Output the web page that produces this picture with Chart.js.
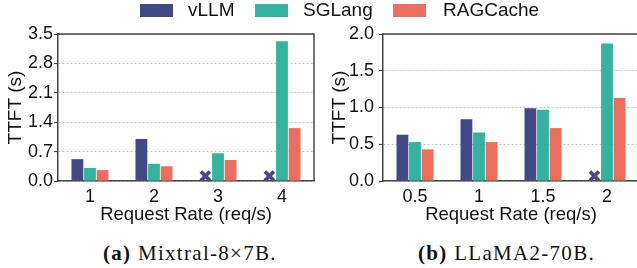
<!DOCTYPE html>
<html>
<head>
<meta charset="utf-8">
<script src="https://cdn.jsdelivr.net/npm/chart.js@4"></script>
<style>
  body { margin: 0; width: 637px; height: 268px; overflow: hidden; background: #fff; position: relative; }
  canvas { position: absolute; top: 0; }
  #chart_a { left: 0; }
  #chart_b { left: 320px; }
  .legend { position: absolute; top: 0; font-family: "Liberation Sans", Arial, sans-serif; font-size: 19px; color: #111; }
  .lg_box { position: absolute; top: 4px; width: 33px; height: 13px; }
  .lg_txt { position: absolute; top: -1px; white-space: nowrap; }
  .caption { position: absolute; top: 241px; font-family: "Liberation Serif", "Times New Roman", serif; font-size: 21px; color: #111; white-space: nowrap; letter-spacing: 1.3px; }
</style>
</head>
<body>
<canvas id="chart_a" width="318" height="226"></canvas>
<canvas id="chart_b" width="320" height="226"></canvas>

<div class="legend">
  <div class="lg_box" style="left:140px;background:#414987"></div>
  <div class="lg_txt" style="left:188px">vLLM</div>
  <div class="lg_box" style="left:255px;background:#34b49f"></div>
  <div class="lg_txt" style="left:303px">SGLang</div>
  <div class="lg_box" style="left:393px;background:#eb6e5f"></div>
  <div class="lg_txt" style="left:443px">RAGCache</div>
</div>
<div class="caption" style="left:103px"><b>(a)</b> Mixtral-8×7B.</div>
<div class="caption" style="left:418px"><b>(b)</b> LLaMA2-70B.</div>

<script>
// (a) Mixtral-8x7B
const rate_a = ["1", "2", "3", "4"];
const vllm_a = [0.52, 1.00, null, null];   // null = vLLM failed (X marker)
const sglang_a = [0.31, 0.41, 0.66, 3.33];
const rag_a = [0.26, 0.35, 0.50, 1.26];
const ticks_a = { max: 3.5, step: 0.7 };

// (b) LLaMA2-70B
const rate_b = ["0.5", "1", "1.5", "2"];
const vllm_b = [0.63, 0.84, 0.99, null];
const sglang_b = [0.53, 0.66, 0.97, 1.87];
const rag_b = [0.43, 0.53, 0.72, 1.13];
const ticks_b = { max: 2.0, step: 0.5 };

const colors = ["#414987", "#34b49f", "#eb6e5f"];
const font = "'Liberation Sans', Arial, sans-serif";

// frame on top/right + X marks for failed vLLM runs
const frame_plugin = {
  id: "frame",
  afterDatasetsDraw(chart) {
    const { ctx } = chart;
    const meta = chart.getDatasetMeta(0);
    const y0 = chart.scales.y.getPixelForValue(0);
    ctx.save();
    ctx.strokeStyle = colors[0];
    ctx.lineWidth = 3.8;
    chart.data.datasets[0].data.forEach((v, i) => {
      if (v !== null) return;
      const x = meta.data[i].x;
      const y = y0 - 5;
      ctx.beginPath();
      ctx.moveTo(x - 4.5, y - 4.5);
      ctx.lineTo(x + 4.5, y + 4.5);
      ctx.moveTo(x + 4.5, y - 4.5);
      ctx.lineTo(x - 4.5, y + 4.5);
      ctx.stroke();
    });
    ctx.restore();
  },
  afterDraw(chart) {
    const { ctx, chartArea } = chart;
    ctx.save();
    ctx.strokeStyle = "#444";
    ctx.lineWidth = 1.5;
    ctx.beginPath();
    ctx.moveTo(chartArea.left, chartArea.top);
    ctx.lineTo(chartArea.right, chartArea.top);
    ctx.lineTo(chartArea.right, chartArea.bottom);
    ctx.stroke();
    ctx.restore();
  },
};

function make_chart(id, labels, vllm, sglang, rag, ticks, y_width, pad_right, label_pad, title_pad) {
  return new Chart(document.getElementById(id), {
    type: "bar",
    data: {
      labels: labels,
      datasets: [
        { label: "vLLM", data: vllm, backgroundColor: colors[0] },
        { label: "SGLang", data: sglang, backgroundColor: colors[1] },
        { label: "RAGCache", data: rag, backgroundColor: colors[2] },
      ],
    },
    options: {
      responsive: false,
      animation: false,
      devicePixelRatio: 1,
      layout: { padding: { top: 34, right: pad_right, left: 0, bottom: 0 } },
      datasets: { bar: { categoryPercentage: 0.59, barPercentage: 0.94 } },
      plugins: { legend: { display: false }, tooltip: { enabled: false } },
      scales: {
        x: {
          grid: { display: false, drawTicks: false },
          border: { color: "#444", width: 1.5 },
          ticks: { color: "#111", padding: 5, font: { family: font, size: 18 } },
          title: {
            display: true,
            text: "Request Rate (req/s)",
            color: "#111",
            padding: { top: 0, bottom: 0 },
            font: { family: font, size: 18.5 },
          },
          afterFit: (s) => { s.height = 45; },
        },
        y: {
          min: 0,
          max: ticks.max,
          grid: {
            color: "#b5b5b5",
            lineWidth: 0.8,
            tickColor: "#444",
            tickLength: 4,
            tickWidth: 1.2,
            tickBorderDash: [],
          },
          border: { color: "#444", width: 1.5, dash: [2, 2] },
          ticks: {
            stepSize: ticks.step,
            color: "#111",
            padding: label_pad,
            font: { family: font, size: 18 },
            callback: (v) => v.toFixed(1),
          },
          title: {
            display: true,
            text: "TTFT (s)",
            color: "#111",
            padding: { top: title_pad, bottom: 0 },
            font: { family: font, size: 19 },
          },
          afterFit: (s) => { s.width = y_width; },
        },
      },
    },
    plugins: [frame_plugin],
  });
}

make_chart("chart_a", rate_a, vllm_a, sglang_a, rag_a, ticks_a, 58, 4, 1, 4);
make_chart("chart_b", rate_b, vllm_b, sglang_b, rag_b, ticks_b, 63, 1, 5, 8);
</script>
</body>
</html>
